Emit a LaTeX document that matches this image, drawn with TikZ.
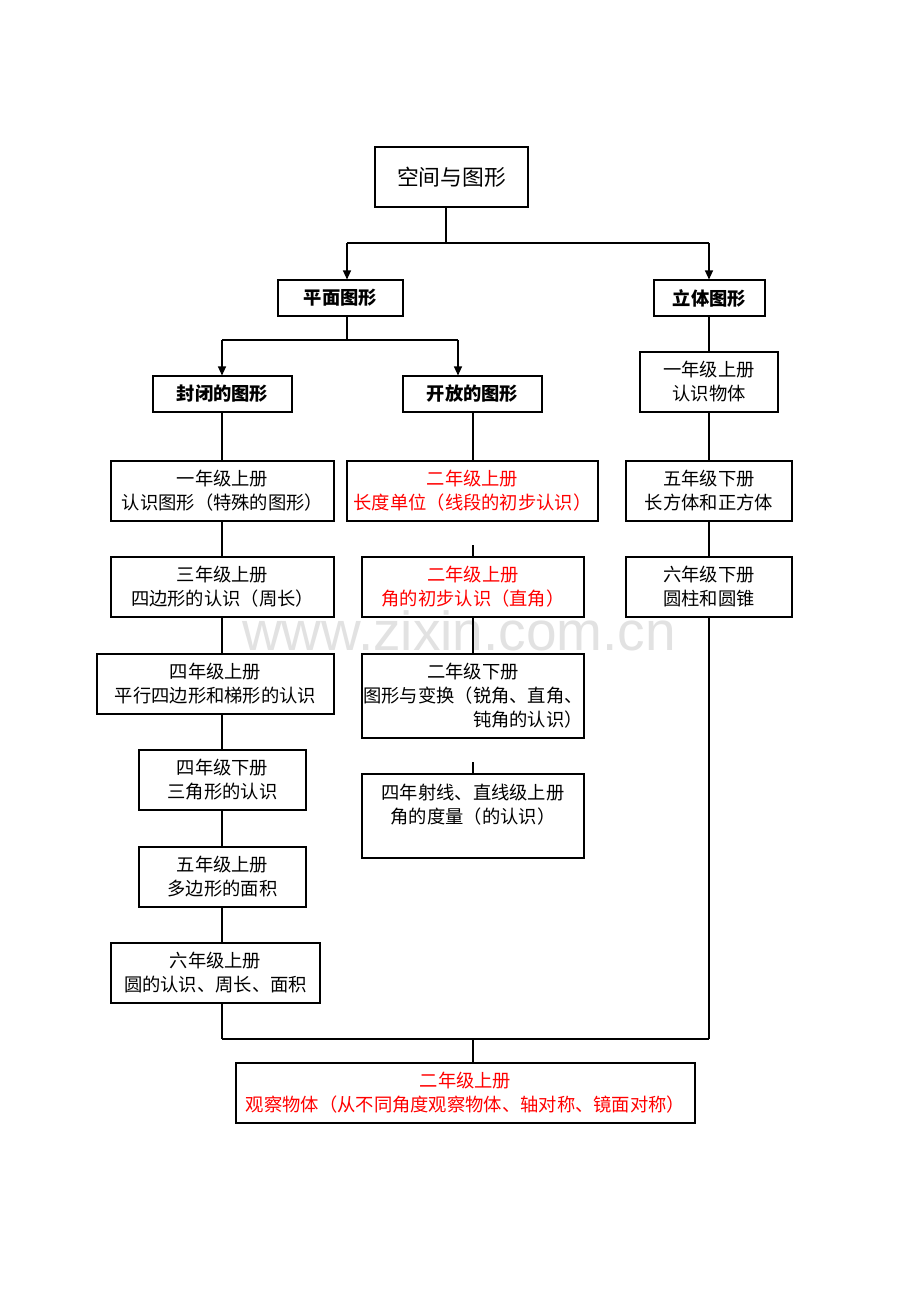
\documentclass[tikz,border=0pt]{standalone}
\usepackage{fontspec}
\setmainfont{Noto Sans CJK SC}
\newfontfamily\wmfont{Liberation Sans}
\usetikzlibrary{arrows.meta}
\definecolor{myred}{RGB}{255,0,0}
\definecolor{wmgray}{RGB}{226,226,226}
\begin{document}
\begin{tikzpicture}[x=1pt,y=-1pt,
  box/.style={draw=black, line width=1.1pt, inner sep=0pt, align=center, font=\fontsize{18.3}{24}\selectfont},
  head/.style={box, font=\fontsize{18.3}{24}\selectfont\bfseries},
  redtxt/.style={text=myred},
  conn/.style={line width=1.1pt},
  arr/.style={conn, -{Triangle[length=9pt,width=8pt]}}
]
\fill[white] (0,0) rectangle (920,1302);
\useasboundingbox (0,0) rectangle (920,1302);

% watermark
\node[text=wmgray, font=\fontsize{55}{55}\selectfont\wmfont, inner sep=0pt] (wm) at (459,631) {www.zixin.com.cn};

% top levels
\node[box, minimum width=153pt, minimum height=60pt, font=\fontsize{21.8}{26}\selectfont] (root) at (451.5,177) {空间与图形};
\node[head, minimum width=125pt, minimum height=36pt] (pm) at (340.5,298) {平面图形};
\node[head, minimum width=111pt, minimum height=36pt] (lt) at (709.5,298) {立体图形};
\node[head, minimum width=139pt, minimum height=36pt] (fb) at (222.5,394) {封闭的图形};
\node[head, minimum width=139pt, minimum height=36pt] (kf) at (472.5,394) {开放的图形};

% solid column
\node[box, minimum width=138pt, minimum height=60pt] (l1) at (709,382) {一年级上册\\认识物体};
\node[box, minimum width=166pt, minimum height=60pt] (l2) at (709,491) {五年级下册\\长方体和正方体};
\node[box, minimum width=166pt, minimum height=60pt] (l3) at (709,587) {六年级下册\\圆柱和圆锥};

% closed column
\node[box, minimum width=223pt, minimum height=60pt] (a1) at (222.5,491) {一年级上册\\认识图形（特殊的图形）};
\node[box, minimum width=223pt, minimum height=60pt] (a2) at (222.5,587) {三年级上册\\四边形的认识（周长）};
\node[box, minimum width=237pt, minimum height=60pt] (a3) at (215.5,684) {四年级上册\\平行四边形和梯形的认识};
\node[box, minimum width=167pt, minimum height=60pt] (a4) at (222.5,780) {四年级下册\\三角形的认识};
\node[box, minimum width=167pt, minimum height=60pt] (a5) at (222.5,877) {五年级上册\\多边形的面积};
\node[box, minimum width=209pt, minimum height=60pt] (a6) at (215.5,973) {六年级上册\\圆的认识、周长、面积};

% open column
\node[box, redtxt, minimum width=251pt, minimum height=60pt] (b1) at (472.5,491) {二年级上册\\长度单位（线段的初步认识）};
\node[box, redtxt, minimum width=222pt, minimum height=60pt] (b2) at (473,587) {二年级上册\\角的初步认识（直角）};
\node[box, minimum width=222pt, minimum height=84pt] (b3) at (473,696) {二年级下册\\图形与变换（锐角、直角、\\\phantom{图形与变换（}钝角的认识）};
\node[box, minimum width=222pt, minimum height=84pt] (b4) at (473,816) {四年射线、直线级上册\\角的度量（的认识）\\\mbox{}};

% bottom
\node[box, redtxt, minimum width=459pt, minimum height=60pt] (bot) at (465.5,1093) {二年级上册\\观察物体（从不同角度观察物体、轴对称、镜面对称）};

% junction coordinates
\coordinate (rj) at (446,243);
\coordinate (pj) at (347,243);
\coordinate (lj) at (709,243);
\coordinate (pk) at (347,340);
\coordinate (fj) at (222,340);
\coordinate (kj) at (458,340);
\coordinate (b2t) at (473,545);
\coordinate (b4t) at (473,762);
\coordinate (bl) at (222,1039);
\coordinate (br) at (709,1039);
\coordinate (bm) at (473,1039);

% connectors
\draw[conn] (root.south -| rj) -- (rj);
\draw[conn] (pj) -- (lj);
\draw[arr] (pj) -- (pj |- pm.north);
\draw[arr] (lj) -- (lj |- lt.north);
\draw[conn] (pm.south -| pk) -- (pk);
\draw[conn] (fj) -- (kj);
\draw[arr] (fj) -- (fj |- fb.north);
\draw[arr] (kj) -- (kj |- kf.north);

\draw[conn] (lt.south -| lj) -- (lj |- l1.north);
\draw[conn] (l1.south -| lj) -- (lj |- l2.north);
\draw[conn] (l2.south -| lj) -- (lj |- l3.north);
\draw[conn] (l3.south -| br) -- (br);

\draw[conn] (fb.south -| fj) -- (fj |- a1.north);
\draw[conn] (a1.south -| fj) -- (fj |- a2.north);
\draw[conn] (a2.south -| fj) -- (fj |- a3.north);
\draw[conn] (a3.south -| fj) -- (fj |- a4.north);
\draw[conn] (a4.south -| fj) -- (fj |- a5.north);
\draw[conn] (a5.south -| fj) -- (fj |- a6.north);
\draw[conn] (a6.south -| bl) -- (bl);

\draw[conn] (kf.south -| b2t) -- (b2t |- b1.north);
\draw[conn] (b2t) -- (b2.north -| b2t);
\draw[conn] (b2.south -| b2t) -- (b2t |- b3.north);
\draw[conn] (b4t) -- (b4.north -| b4t);

\draw[conn] (bl) -- (br);
\draw[conn] (bm) -- (bm |- bot.north);
\end{tikzpicture}
\end{document}
